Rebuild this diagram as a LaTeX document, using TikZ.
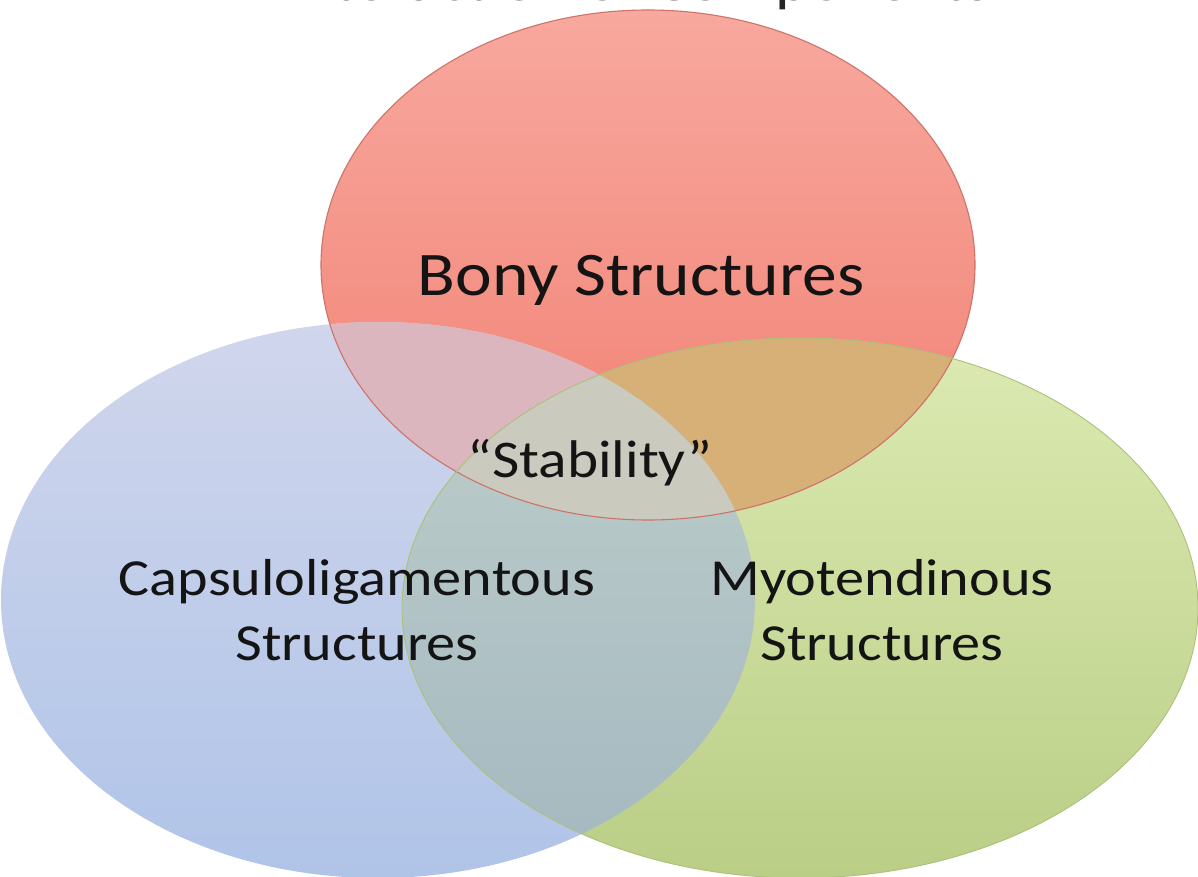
\documentclass[tikz,border=0pt]{standalone}
\usepackage{fontspec}
\setmainfont{Carlito}[FakeStretch=1.12]
\definecolor{redT}{RGB}{248,168,158}
\definecolor{redB}{RGB}{241,128,114}
\definecolor{blueT}{RGB}{208,214,236}
\definecolor{blueB}{RGB}{176,196,232}
\definecolor{greenT}{RGB}{220,234,178}
\definecolor{greenB}{RGB}{186,206,134}
\definecolor{rbC}{RGB}{220,182,190}
\definecolor{rgC}{RGB}{214,176,118}
\definecolor{bgT}{RGB}{190,206,202}
\definecolor{bgB}{RGB}{164,184,192}
\definecolor{allC}{RGB}{202,202,190}
\definecolor{redEdge}{RGB}{205,115,105}
\definecolor{greenEdge}{RGB}{172,192,122}
\begin{document}
\begin{tikzpicture}[x=1pt,y=-1pt,
  lbl/.style={font=\fontsize{52}{65}\selectfont, align=center, text=black!92},
]
\useasboundingbox (0,0) rectangle (1198,877);
\clip (0,0) rectangle (1198,877);
\fill[white] (0,0) rectangle (1198,877);
% title (cut off at the top edge)
\node[anchor=base, font=\fontsize{58}{70}\selectfont, text=black!85] (title) at (637,0.5) {Interaction of Components};
% ellipses
\def\redE{(648,265) ellipse [x radius=327, y radius=255]}
\def\blueE{(378,600) ellipse [x radius=377, y radius=278]}
\def\greenE{(800,608) ellipse [x radius=398, y radius=270]}
% single regions
\shade[top color=redT, bottom color=redB] \redE;
\shade[top color=blueT, bottom color=blueB] \blueE;
\shade[top color=greenT, bottom color=greenB] \greenE;
% red & blue
\begin{scope}
  \clip \redE;
  \fill[rbC] \blueE;
\end{scope}
% red & green
\begin{scope}
  \clip \redE;
  \fill[rgC] \greenE;
\end{scope}
% blue & green
\begin{scope}
  \clip \blueE;
  \shade[top color=bgT, bottom color=bgB] \greenE;
\end{scope}
% all three
\begin{scope}
  \clip \redE;
  \clip \blueE;
  \fill[allC] \greenE;
\end{scope}
% outlines
\draw[redEdge, line width=1.1] \redE;
\draw[greenEdge, line width=0.9] \greenE;
% labels
\node[lbl, anchor=base, font=\fontsize{62}{70}\selectfont] (bony) at (641,295) {Bony Structures};
\node[lbl, anchor=base, font=\fontsize{53}{60}\selectfont] (stab) at (590,477) {``Stability''};
\node[lbl] (caps) at (357,610) {Capsuloligamentous\\Structures};
\node[lbl] (myo) at (882,610) {Myotendinous\\Structures};
\end{tikzpicture}
\end{document}
